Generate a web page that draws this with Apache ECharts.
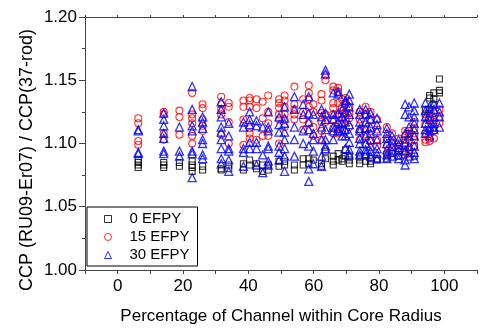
<!DOCTYPE html>
<html>
<head>
<meta charset="utf-8">
<script src="https://cdn.jsdelivr.net/npm/echarts@6/dist/echarts.min.js"></script>
<style>
    html, body { margin: 0; padding: 0; background: #fff; }
    #chart { width: 480px; height: 330px; }
</style>
</head>
<body>
<div id="chart"></div>
<script>
// each column: [percentage of channel, [ratio values]]
var efpy0 = [
    [6.3, [1.081, 1.083, 1.085, 1.087]],
    [14.1, [1.081, 1.083, 1.085]],
    [18.9, [1.082, 1.085]],
    [22.8, [1.078, 1.081, 1.083, 1.086]],
    [26, [1.079, 1.082]],
    [31.7, [1.079, 1.080]],
    [34, [1.080, 1.083]],
    [38.5, [1.079, 1.084]],
    [40.4, [1.083, 1.087]],
    [42.5, [1.080, 1.084]],
    [44.4, [1.078, 1.083]],
    [46.1, [1.079, 1.083]],
    [49.4, [1.082, 1.086]],
    [51.1, [1.083, 1.086]],
    [54.1, [1.079, 1.083]],
    [56.8, [1.083, 1.088]],
    [58.5, [1.084, 1.088]],
    [59.9, [1.087]],
    [62.4, [1.082, 1.084]],
    [63.6, [1.088, 1.094]],
    [66, [1.083, 1.086, 1.090]],
    [67.5, [1.087, 1.092]],
    [68.7, [1.086, 1.088]],
    [69.7, [1.090, 1.095]],
    [70.9, [1.084, 1.087, 1.090]],
    [74.1, [1.084, 1.087, 1.090]],
    [75.9, [1.086, 1.090]],
    [77.4, [1.084, 1.086, 1.088]],
    [79.4, [1.087, 1.088]],
    [82.4, [1.088, 1.091]],
    [84, [1.092]],
    [86, [1.090, 1.096]],
    [88, [1.094, 1.098, 1.103]],
    [89.2, [1.092, 1.108]],
    [90.8, [1.090, 1.098]],
    [94.2, [1.121, 1.127]],
    [95.5, [1.127, 1.136, 1.138]],
    [96.8, [1.131, 1.135, 1.140]],
    [98.5, [1.140, 1.142, 1.151]]
];

var efpy15 = [
    [6.3, [1.099, 1.102, 1.116, 1.120]],
    [14.1, [1.103, 1.108, 1.123, 1.125]],
    [18.9, [1.107, 1.121, 1.126]],
    [22.8, [1.100, 1.106, 1.116, 1.120, 1.123, 1.140]],
    [26, [1.110, 1.114, 1.119, 1.128, 1.131]],
    [31.7, [1.107, 1.123, 1.127, 1.131, 1.137]],
    [34, [1.100, 1.117, 1.129, 1.132]],
    [38.5, [1.099, 1.119, 1.129, 1.134]],
    [40.4, [1.104, 1.108, 1.112, 1.129, 1.134, 1.136]],
    [42.5, [1.103, 1.128, 1.135]],
    [44.4, [1.106, 1.120, 1.133]],
    [46.1, [1.106, 1.116, 1.125, 1.138]],
    [49.4, [1.100, 1.119, 1.123, 1.128, 1.132, 1.135]],
    [51.1, [1.113, 1.119, 1.123, 1.129, 1.134, 1.138]],
    [54.1, [1.119, 1.123, 1.127, 1.131, 1.145]],
    [56.8, [1.111, 1.119, 1.125, 1.135]],
    [58.5, [1.116, 1.129, 1.135, 1.140, 1.146]],
    [59.9, [1.106, 1.113, 1.125, 1.131]],
    [62.4, [1.103, 1.110, 1.117, 1.124, 1.134, 1.139]],
    [63.6, [1.117, 1.123, 1.150, 1.154]],
    [66, [1.108, 1.112, 1.119, 1.123, 1.128, 1.132, 1.142, 1.145]],
    [67.5, [1.108, 1.115, 1.123, 1.132, 1.141, 1.144]],
    [68.7, [1.111, 1.116, 1.123, 1.129, 1.135]],
    [69.7, [1.119, 1.125, 1.132, 1.136]],
    [70.9, [1.113, 1.120, 1.124, 1.129]],
    [74.1, [1.103, 1.110, 1.119, 1.125]],
    [75.9, [1.099, 1.107, 1.115, 1.123, 1.129]],
    [77.4, [1.102, 1.110, 1.119, 1.125]],
    [79.4, [1.098, 1.103, 1.111, 1.119]],
    [82.4, [1.092, 1.098, 1.104, 1.113]],
    [84, [1.097, 1.100, 1.108]],
    [86, [1.094, 1.100, 1.104]],
    [88, [1.091, 1.098, 1.106, 1.110]],
    [89.2, [1.095, 1.102, 1.110]],
    [90.8, [1.098, 1.103, 1.106, 1.112, 1.117]],
    [94.2, [1.101, 1.103, 1.108, 1.115, 1.123]],
    [95.5, [1.102, 1.104, 1.111, 1.120]],
    [96.8, [1.104, 1.110, 1.117, 1.124]],
    [98.5, [1.116, 1.121, 1.127]]
];

var efpy30 = [
    [6.3, [1.092, 1.093, 1.110, 1.111]],
    [14.1, [1.092, 1.094, 1.104, 1.108, 1.114, 1.119, 1.124]],
    [18.9, [1.090, 1.094, 1.113]],
    [22.8, [1.073, 1.092, 1.094, 1.110, 1.114, 1.127, 1.145]],
    [26, [1.088, 1.091, 1.100, 1.103, 1.112, 1.117, 1.121]],
    [31.7, [1.084, 1.088, 1.096, 1.103, 1.109, 1.113, 1.121, 1.127, 1.133]],
    [34, [1.078, 1.087, 1.094, 1.096, 1.106, 1.116]],
    [38.5, [1.082, 1.093, 1.096, 1.113, 1.117]],
    [40.4, [1.096, 1.101, 1.115, 1.119, 1.125]],
    [42.5, [1.083, 1.096, 1.101, 1.114, 1.118]],
    [44.4, [1.077, 1.091, 1.113]],
    [46.1, [1.083, 1.086, 1.096, 1.098, 1.110, 1.113, 1.125]],
    [49.4, [1.087, 1.093, 1.098, 1.109, 1.115, 1.121]],
    [51.1, [1.078, 1.090, 1.096, 1.103, 1.109, 1.116, 1.120, 1.129]],
    [54.1, [1.090, 1.103, 1.113, 1.127, 1.137]],
    [56.8, [1.100, 1.110, 1.123, 1.131]],
    [58.5, [1.070, 1.080, 1.098, 1.111, 1.117, 1.124, 1.137]],
    [59.9, [1.084, 1.094, 1.103, 1.108, 1.123]],
    [62.4, [1.082, 1.090, 1.103, 1.113, 1.121, 1.127]],
    [63.6, [1.096, 1.098, 1.103, 1.111, 1.119, 1.124, 1.155, 1.158]],
    [66, [1.103, 1.110, 1.113, 1.119, 1.123, 1.140]],
    [67.5, [1.110, 1.112, 1.117, 1.124, 1.139, 1.141]],
    [68.7, [1.106, 1.110, 1.116, 1.121, 1.127]],
    [69.7, [1.096, 1.106, 1.111, 1.117, 1.125, 1.132, 1.134]],
    [70.9, [1.091, 1.095, 1.101, 1.108, 1.115, 1.123, 1.129, 1.134, 1.139]],
    [74.1, [1.091, 1.094, 1.100, 1.104, 1.110, 1.112, 1.117, 1.123, 1.127]],
    [75.9, [1.092, 1.095, 1.100, 1.106, 1.112, 1.117, 1.123, 1.127]],
    [77.4, [1.090, 1.094, 1.098, 1.103, 1.108, 1.113, 1.119, 1.124]],
    [79.4, [1.088, 1.092, 1.096, 1.103, 1.110, 1.115, 1.120]],
    [82.4, [1.088, 1.091, 1.095, 1.100, 1.104, 1.108, 1.112]],
    [84, [1.090, 1.094, 1.098, 1.102, 1.106]],
    [86, [1.088, 1.091, 1.095, 1.099, 1.103]],
    [88, [1.083, 1.087, 1.094, 1.101, 1.108, 1.123, 1.131]],
    [89.2, [1.090, 1.098, 1.106, 1.113, 1.121, 1.129]],
    [90.8, [1.088, 1.093, 1.098, 1.106, 1.111, 1.116, 1.121, 1.126, 1.132]],
    [94.2, [1.108, 1.111, 1.116, 1.121, 1.126, 1.132]],
    [95.5, [1.106, 1.110, 1.113, 1.119, 1.124, 1.129]],
    [96.8, [1.111, 1.113, 1.116, 1.121, 1.127, 1.131]],
    [98.5, [1.113, 1.121, 1.125, 1.132]]
];

var seriesNames = ['0 EFPY', '15 EFPY', '30 EFPY'];
var xLabel = 'Percentage of Channel within Core Radius';
var yLabel = 'CCP (RU09-Er07) / CCP(37-rod)';

function toPoints(cols) {
    var pts = [];
    for (var i = 0; i < cols.length; i++) {
        for (var j = 0; j < cols[i][1].length; j++) {
            pts.push([cols[i][0], cols[i][1][j]]);
        }
    }
    return pts;
}

var font = 'Liberation Sans, Arial, sans-serif';
var axisColor = '#444';

function scatter(name, data, symbol, size, color, lw) {
    return {
        name: name,
        type: 'scatter',
        symbol: symbol,
        symbolSize: size,
        itemStyle: {
            color: 'transparent',
            borderColor: color,
            borderWidth: lw
        },
        emphasis: { disabled: true },
        data: data
    };
}

var chart = echarts.init(document.getElementById('chart'));
var option = {
    animation: false,
    grid: {
        left: 85,
        top: 17,
        right: -3,
        bottom: 60
    },
    legend: {
        orient: 'vertical',
        left: 87,
        top: 207,
        padding: [3, 8, 2, 17],
        itemWidth: 7,
        itemHeight: 7,
        itemGap: 0,
        itemStyle: { borderWidth: 1 },
        borderColor: '#000',
        borderWidth: 1,
        borderRadius: 0,
        textStyle: {
            fontFamily: font,
            fontSize: 15,
            lineHeight: 18,
            padding: [0, 0, 0, 13],
            color: '#000'
        },
        data: [
            { name: seriesNames[0], icon: 'rect' },
            { name: seriesNames[1], icon: 'circle' },
            { name: seriesNames[2], icon: 'triangle' }
        ]
    },
    xAxis: [{
        type: 'value',
        min: -10,
        max: 110,
        interval: 10,
        name: xLabel,
        nameLocation: 'middle',
        nameGap: 38,
        nameTextStyle: { fontFamily: font, fontSize: 17, color: '#000' },
        splitLine: { show: false },
        axisLine: { onZero: false, lineStyle: { color: axisColor, width: 1 } },
        axisTick: { length: 4, lineStyle: { color: axisColor } },
        axisLabel: {
            margin: 8,
            fontFamily: font,
            fontSize: 17,
            color: '#000',
            showMinLabel: true,
            showMaxLabel: true,
            formatter: function (v) {
                return v % 20 === 0 ? String(v) : '';
            }
        }
    }, {
        type: 'value',
        position: 'top',
        min: -10,
        max: 110,
        interval: 10,
        splitLine: { show: false },
        axisLine: { onZero: false, lineStyle: { color: axisColor, width: 1 } },
        axisTick: { length: 2, lineStyle: { color: axisColor } },
        axisLabel: { show: false }
    }],
    yAxis: {
        type: 'value',
        min: 1.0,
        max: 1.2,
        interval: 0.05,
        splitLine: { show: false },
        axisLine: { show: true, onZero: false, lineStyle: { color: axisColor, width: 1 } },
        axisTick: { show: true, length: 6, lineStyle: { color: axisColor } },
        minorTick: { show: true, splitNumber: 2, length: 3, lineStyle: { color: axisColor } },
        axisLabel: {
            margin: 8,
            fontFamily: font,
            fontSize: 17,
            color: '#000',
            formatter: function (v) {
                return v.toFixed(2);
            }
        }
    },
    graphic: [{
        type: 'text',
        x: 27,
        y: 160,
        rotation: Math.PI / 2,
        style: {
            text: yLabel,
            fontFamily: font,
            fontSize: 18,
            fill: '#000',
            textAlign: 'center',
            textVerticalAlign: 'middle'
        }
    }],
    series: [
        scatter(seriesNames[0], toPoints(efpy0), 'rect', 6, '#000', 1.1),
        scatter(seriesNames[1], toPoints(efpy15), 'circle', 7, '#ff0000', 1.1),
        scatter(seriesNames[2], toPoints(efpy30), 'triangle', 8, '#0000ff', 1.3)
    ]
};
chart.setOption(option);
</script>
</body>
</html>
